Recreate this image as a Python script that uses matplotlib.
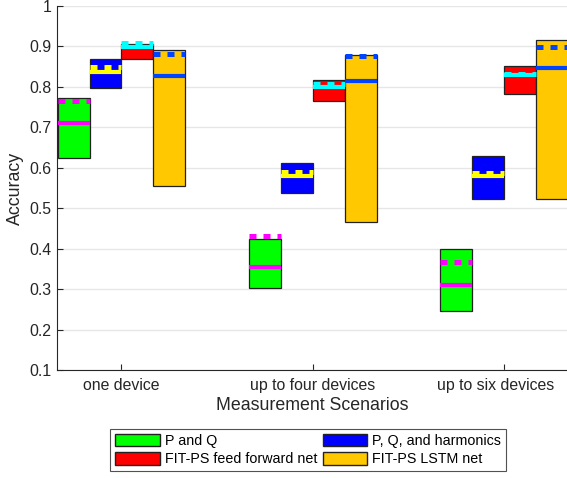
import numpy as np
import matplotlib.pyplot as plt
from matplotlib.patches import Patch
import matplotlib.transforms as mtransforms

plt.rcParams['font.family'] = ['Liberation Sans', 'DejaVu Sans']

# data
scenarios = ['one device', 'up to four devices', 'up to six devices']
methods = ['P and Q', 'P, Q, and harmonics', 'FIT-PS feed forward net', 'FIT-PS LSTM net']

acc_min = {
    'P and Q': [0.625, 0.303, 0.245],
    'P, Q, and harmonics': [0.797, 0.538, 0.524],
    'FIT-PS feed forward net': [0.869, 0.766, 0.782],
    'FIT-PS LSTM net': [0.555, 0.466, 0.524],
}
acc_max = {
    'P and Q': [0.772, 0.425, 0.400],
    'P, Q, and harmonics': [0.868, 0.613, 0.629],
    'FIT-PS feed forward net': [0.905, 0.818, 0.851],
    'FIT-PS LSTM net': [0.890, 0.880, 0.916],
}
acc_median = {
    'P and Q': [0.710, 0.355, 0.309],
    'P, Q, and harmonics': [0.838, 0.580, 0.580],
    'FIT-PS feed forward net': [0.898, 0.800, 0.830],
    'FIT-PS LSTM net': [0.826, 0.815, 0.846],
}
acc_mean = {
    'P and Q': [0.764, 0.431, 0.366],
    'P, Q, and harmonics': [0.849, 0.590, 0.586],
    'FIT-PS feed forward net': [0.908, 0.807, 0.833],
    'FIT-PS LSTM net': [0.882, 0.877, 0.898],
}

box_colors = ['#00ff00', '#0000ff', '#ff0000', '#ffc800']
line_colors = ['#ff00ff', '#ffff00', '#00ffff', '#0044ff']

fig = plt.figure(figsize=(5.67, 4.78), dpi=100)
ax = fig.add_axes([57 / 567, 108 / 478, 510 / 567, 364 / 478])

x = np.arange(1, len(scenarios) + 1)
w = 1 / 6
for i, m in enumerate(methods):
    xs = x + (i - 1.5) * w
    lo = np.array(acc_min[m])
    hi = np.array(acc_max[m])
    ax.bar(xs, hi - lo, bottom=lo, width=w, color=box_colors[i],
           edgecolor='#222222', linewidth=0.9, zorder=2)
    for j in range(len(xs)):
        ax.plot([xs[j] - w / 2, xs[j] + w / 2], [acc_median[m][j]] * 2,
                color=line_colors[i], lw=3, solid_capstyle='butt', zorder=3)
        ax.plot([xs[j] - w / 2, xs[j] + w / 2], [acc_mean[m][j]] * 2,
                color=line_colors[i], lw=3.6, linestyle=(0, (1.4, 1.4)),
                dash_capstyle='butt', zorder=3)

ax.set_xlim(0.663, 3.329)
ax.set_ylim(0.1, 1)
ax.set_yticks(np.arange(0.1, 1.01, 0.1))
ax.set_yticklabels(['0.1', '0.2', '0.3', '0.4', '0.5', '0.6', '0.7', '0.8', '0.9', '1'])
ax.set_xticks(x)
ax.set_xticklabels(scenarios)
ax.grid(axis='y', color='#e6e6e6', linewidth=1, zorder=0)
ax.set_axisbelow(True)
for s in ['top', 'right']:
    ax.spines[s].set_visible(False)
for s in ['left', 'bottom']:
    ax.spines[s].set_color('#262626')
ax.tick_params(direction='in', length=4, labelsize=11.4, colors='#262626',
               labelcolor='#262626')
ax.tick_params(axis='x', pad=6)
ax.tick_params(axis='y', pad=4)

# last label pushed left to stay inside the figure
lab = ax.get_xticklabels()[2]
lab.set_transform(lab.get_transform() +
                  mtransforms.ScaledTranslation(-8 / 100, 0, fig.dpi_scale_trans))

ax.set_xlabel('Measurement Scenarios', fontsize=12.8, color='#262626', labelpad=3)
ax.set_ylabel('Accuracy', fontsize=12.8, color='#262626', labelpad=4)

handles = [Patch(facecolor=box_colors[i], edgecolor='#222222', label=methods[i])
           for i in [0, 2, 1, 3]]
leg = fig.legend(handles=handles, ncol=2, loc='center', bbox_to_anchor=(308 / 567, 1 - 450 / 478),
                 fontsize=10.3, frameon=True, fancybox=False, edgecolor='#262626',
                 handlelength=3.1, handleheight=1.0, columnspacing=0.4,
                 handletextpad=0.35, labelspacing=0.3, borderpad=0.35)
leg.get_frame().set_linewidth(0.8)

fig.savefig('out.png', dpi=100)
